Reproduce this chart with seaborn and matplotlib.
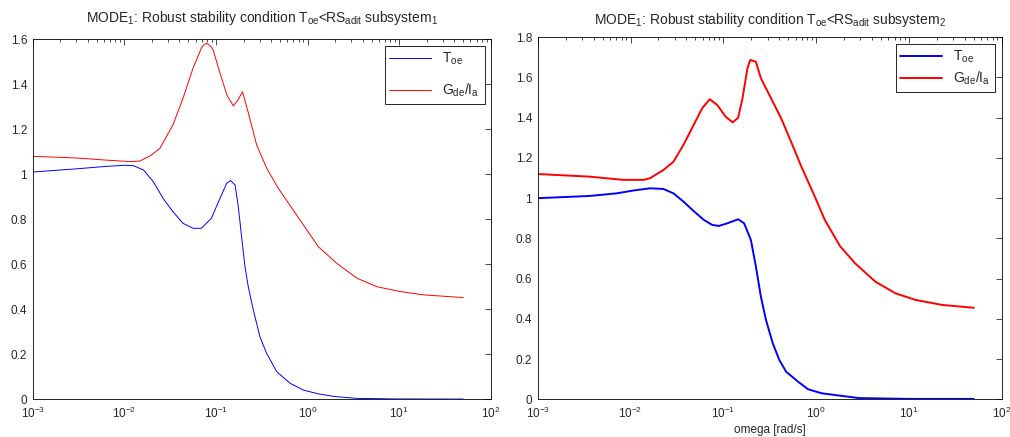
import numpy as np
import pandas as pd
import matplotlib
matplotlib.use("Agg")
import matplotlib.pyplot as plt
from matplotlib.ticker import LogLocator, LogFormatterMathtext, FixedLocator, NullFormatter
import seaborn as sns

# ---- data (omega in rad/s) ----
w_toe_1 = [0.001, 0.00316, 0.00631, 0.01, 0.0126, 0.0162, 0.0207, 0.0265, 0.0339, 0.0437,
           0.0562, 0.0692, 0.0891, 0.1107, 0.131, 0.1445, 0.162, 0.1754, 0.1905, 0.2075,
           0.2254, 0.2559, 0.302, 0.358, 0.46, 0.646, 0.9, 1.31, 2.0, 3.47, 10.0, 50.0]
toe_1 = [1.01, 1.025, 1.035, 1.04, 1.038, 1.019, 0.967, 0.893, 0.834, 0.782,
         0.76, 0.76, 0.804, 0.893, 0.96, 0.972, 0.952, 0.856, 0.723, 0.589,
         0.50, 0.397, 0.278, 0.204, 0.123, 0.071, 0.041, 0.024, 0.012, 0.004, 0.0015, 0.001]

w_gde_1 = [0.001, 0.00316, 0.00631, 0.01, 0.0115, 0.0148, 0.0195, 0.0245, 0.0339, 0.0437,
           0.0562, 0.0692, 0.0741, 0.0794, 0.0871, 0.0933, 0.1096, 0.1318, 0.1549, 0.1738,
           0.195, 0.2239, 0.2786, 0.358, 0.4786, 0.8279, 1.312, 2.089, 3.467, 5.754,
           10.23, 18.6, 50.0]
gde_1 = [1.08, 1.072, 1.063, 1.058, 1.056, 1.059, 1.084, 1.116, 1.219, 1.338,
         1.471, 1.56, 1.577, 1.582, 1.570, 1.552, 1.456, 1.352, 1.304, 1.33,
         1.367, 1.278, 1.13, 1.027, 0.938, 0.797, 0.678, 0.604, 0.538, 0.50,
         0.479, 0.464, 0.452]

w_toe_2 = [0.001, 0.00363, 0.00708, 0.0107, 0.0162, 0.0226, 0.029, 0.0372, 0.0479, 0.0617,
           0.0759, 0.0895, 0.1104, 0.1445, 0.1675, 0.1982, 0.2244, 0.2541, 0.2884, 0.3412,
           0.4018, 0.4753, 0.6368, 0.8185, 1.143, 1.807, 2.9, 10.0, 50.0]
toe_2 = [1.0, 1.011, 1.024, 1.038, 1.049, 1.046, 1.024, 0.983, 0.936, 0.892,
         0.867, 0.862, 0.875, 0.895, 0.875, 0.792, 0.66, 0.51, 0.394, 0.278,
         0.195, 0.137, 0.088, 0.05, 0.03, 0.018, 0.006, 0.002, 0.002]

w_gde_2 = [0.001, 0.00363, 0.0083, 0.0138, 0.0162, 0.0226, 0.029, 0.0372, 0.0479, 0.0592,
           0.0714, 0.0861, 0.1059, 0.1259, 0.1445, 0.161, 0.182, 0.195, 0.2239, 0.2541,
           0.3266, 0.4198, 0.537, 0.6808, 0.968, 1.24, 1.807, 2.63, 4.345, 7.16,
           11.8, 23.0, 50.0]
gde_2 = [1.12, 1.107, 1.091, 1.091, 1.099, 1.14, 1.181, 1.265, 1.364, 1.447,
         1.492, 1.463, 1.405, 1.377, 1.40, 1.497, 1.646, 1.687, 1.679, 1.596,
         1.497, 1.397, 1.281, 1.165, 1.008, 0.892, 0.762, 0.676, 0.585, 0.527,
         0.494, 0.469, 0.455]

titles = [r"MODE$_1$: Robust stability condition T$_{oe}$<RS$_{adit}$ subsystem$_1$",
          r"MODE$_1$: Robust stability condition T$_{oe}$<RS$_{adit}$ subsystem$_2$"]
series_labels = [r"T$_{oe}$", r"G$_{de}$/I$_a$"]
yticks_1 = [0, 0.2, 0.4, 0.6, 0.8, 1, 1.2, 1.4, 1.6]
yticks_2 = [0, 0.2, 0.4, 0.6, 0.8, 1, 1.2, 1.4, 1.6, 1.8]
xlabel_2 = "omega [rad/s]"

sns.set_style("white")
plt.rcParams["font.family"] = ["Liberation Sans", "DejaVu Sans"]
plt.rcParams["mathtext.default"] = "regular"
plt.rcParams["axes.linewidth"] = 0.6
plt.rcParams["axes.edgecolor"] = "black"

fig = plt.figure(figsize=(10.10, 4.37), dpi=100)
ax1 = fig.add_axes([0.0324, 0.0863, 0.4535, 0.8238])
ax2 = fig.add_axes([0.5324, 0.0863, 0.4594, 0.8284])

# ax, omega/values, y ticks, line width, title, title pad, legend label spacing
panels = [
    (ax1, w_toe_1, toe_1, w_gde_1, gde_1, yticks_1, 0.7, titles[0], 12.5, 1.05),
    (ax2, w_toe_2, toe_2, w_gde_2, gde_2, yticks_2, 1.4, titles[1], 9.5, 0.35),
]

for ax, wt, yt, wg, yg, yticks, lw, title, pad, lspace in panels:
    sns.lineplot(x=wt, y=yt, ax=ax, color="blue", lw=lw, label=series_labels[0], sort=False)
    sns.lineplot(x=wg, y=yg, ax=ax, color="red", lw=lw, label=series_labels[1], sort=False)
    ax.set_xscale("log")
    ax.set_xlim(1e-3, 1e2)
    ax.set_ylim(0, yticks[-1])
    ax.xaxis.set_major_locator(LogLocator(base=10, numticks=10))
    ax.xaxis.set_major_formatter(LogFormatterMathtext())
    ax.xaxis.set_minor_locator(LogLocator(base=10, subs=np.arange(2, 10), numticks=20))
    ax.xaxis.set_minor_formatter(NullFormatter())
    ax.yaxis.set_major_locator(FixedLocator(yticks))
    ax.set_yticklabels([f"{t:g}" for t in yticks])
    ax.tick_params(which="both", direction="in", top=True, right=True, labelsize=8.5,
                   color="black", width=0.5)
    ax.tick_params(axis="x", pad=5)
    ax.tick_params(axis="y", pad=4)
    ax.tick_params(which="major", length=4)
    ax.tick_params(which="minor", length=2.2)
    ax.set_title(title, fontsize=10, pad=pad)
    for s in ax.spines.values():
        s.set_visible(True)
        s.set_color("black")
    leg = ax.legend(loc="upper right", fontsize=10, frameon=True, fancybox=False,
                    edgecolor="black", framealpha=1, handlelength=3.0,
                    borderaxespad=0.45, borderpad=0.35, labelspacing=lspace)
    leg.get_frame().set_linewidth(0.6)
    ax.set_ylabel("")
    ax.set_xlabel("")

ax2.set_xlabel(xlabel_2, fontsize=8.5, labelpad=2)

fig.savefig("out.png", dpi=100)
